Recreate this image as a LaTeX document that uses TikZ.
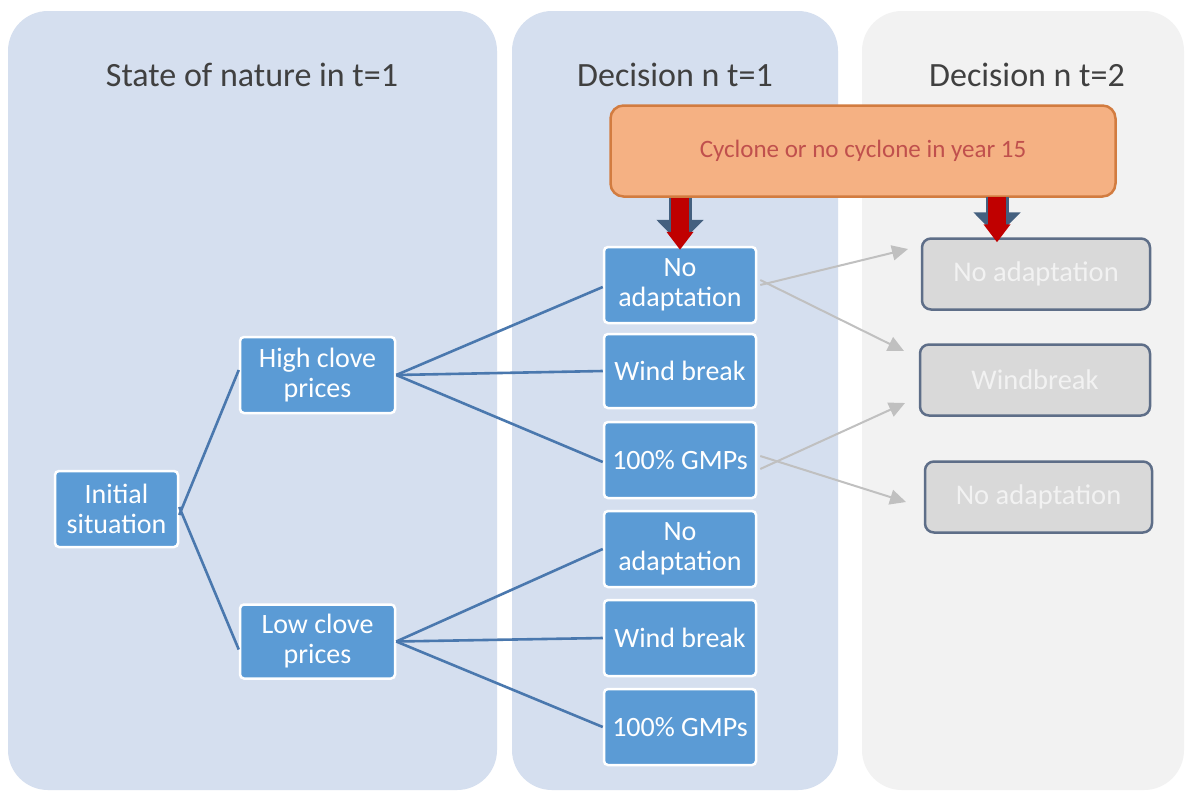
\documentclass[tikz,border=0pt]{standalone}
\usepackage{fontspec}
\setmainfont{Carlito}
\usetikzlibrary{arrows.meta,calc}
\definecolor{panelblue}{HTML}{D5DFEF}
\definecolor{panelgray}{HTML}{F2F2F2}
\definecolor{boxblue}{HTML}{5B9BD5}
\definecolor{linkblue}{HTML}{4A78AE}
\definecolor{graybox}{HTML}{D9D9D9}
\definecolor{grayedge}{HTML}{5E6E88}
\definecolor{orangefill}{HTML}{F5B183}
\definecolor{orangeedge}{HTML}{D27C40}
\definecolor{cyctext}{HTML}{C0504D}
\definecolor{arrowred}{HTML}{C00000}
\definecolor{arrowslate}{HTML}{44607F}
\definecolor{titlegray}{HTML}{404040}
\definecolor{lightarrow}{HTML}{C0C0C0}
\begin{document}
\begin{tikzpicture}[x=1pt,y=-1pt,
  bluebox/.style={draw=white,line width=2.5pt,fill=boxblue,rounded corners=4pt,
    text=white,align=center,font=\fontsize{28}{30}\selectfont,inner sep=0pt,
    minimum height=76pt},
  graynode/.style={draw=grayedge,line width=2.5pt,fill=graybox,rounded corners=9pt,
    text=panelgray,align=center,font=\fontsize{28.5}{30}\selectfont,inner sep=0pt,
    minimum width=228pt,minimum height=71pt},
  titletext/.style={anchor=base,text=titlegray,font=\fontsize{34}{40}\selectfont,inner sep=0pt},
  link/.style={draw=linkblue,line width=2.6pt},
  greyarr/.style={draw=lightarrow,line width=2pt,-{Triangle[length=16pt,width=15pt]}},
  blockout/.style={draw=arrowslate,line width=23pt,-{Triangle[length=24pt,width=46pt]}},
  blockin/.style={draw=arrowred,line width=18pt,-{Triangle[length=18pt,width=26pt]}}
]
\useasboundingbox (0,0) rectangle (1191,796);
\fill[white] (0,0) rectangle (1191,796);
% panels
\fill[panelblue,rounded corners=40pt] (8,11) rectangle (497,790);
\fill[panelblue,rounded corners=40pt] (512,11) rectangle (838,790);
\fill[panelgray,rounded corners=40pt] (862,11) rectangle (1184,790);
% titles
\node[titletext] (t1) at (252,86) {State of nature in t=1};
\node[titletext] (t2) at (675,86) {Decision n t=1};
\node[titletext] (t3) at (1027,86) {Decision n t=2};
% cyclone box
\node[draw=orangeedge,line width=2.5pt,fill=orangefill,rounded corners=13pt,
  minimum width=505pt,minimum height=91pt,inner sep=0pt,text=cyctext,
  font=\fontsize{25}{28}\selectfont] (cyc) at (863,151) {Cyclone or no cyclone in year 15};
% state of nature nodes
\node[bluebox,minimum width=123pt] (init) at (116.5,509) {Initial\\situation};
\node[bluebox,minimum width=155pt] (high) at (317.5,375) {High clove\\prices};
\node[bluebox,minimum width=155pt,minimum height=74pt] (low) at (317.5,641.5) {Low clove\\prices};
% decision t=1 nodes
\node[bluebox,minimum width=152pt] (na1) at (680,285) {No\\adaptation};
\node[bluebox,minimum width=152pt,minimum height=74pt] (wb1) at (680,371) {Wind break};
\node[bluebox,minimum width=152pt] (gm1) at (680,460) {100\% GMPs};
\node[bluebox,minimum width=152pt] (na2) at (680,549) {No\\adaptation};
\node[bluebox,minimum width=152pt] (wb2) at (680,638) {Wind break};
\node[bluebox,minimum width=152pt] (gm2) at (680,727) {100\% GMPs};
% decision t=2 nodes
\node[graynode] (g1) at (1036,274) {No adaptation};
\node[graynode,minimum width=230pt] (g2) at (1035,380) {Windbreak};
\node[graynode,minimum width=227pt] (g3) at (1038.5,497) {No adaptation};
% tree links
\draw[link] ([yshift=-6pt]init.east) -- ([yshift=5pt]high.west);
\draw[link] ([yshift=2pt]init.east) -- ([yshift=-8pt]low.west);
\draw[link] (high.east) -- ([yshift=-2pt]na1.west);
\draw[link] (high.east) -- (wb1.west);
\draw[link] (high.east) -- ([yshift=-2pt]gm1.west);
\draw[link] (low.east) -- (na2.west);
\draw[link] (low.east) -- (wb2.west);
\draw[link] (low.east) -- (gm2.west);
% block arrows from cyclone box
\coordinate (b1s) at (na1.north |- cyc.south);
\coordinate (b2s) at (997,197);
\coordinate (b2e) at (b2s |- g1.north);
\draw[blockout] (b1s) -- ([yshift=2pt]na1.north);
\draw[blockin] (b1s) -- ([yshift=-4pt]na1.north);
\draw[blockout] (b2s) -- ([yshift=1pt]b2e);
\draw[blockin] (b2s) -- ([yshift=-5pt]b2e);
% grey arrows to t=2
\coordinate (e1) at (908,249);
\coordinate (e2) at (904,351);
\coordinate (e3) at (905,403);
\coordinate (e4) at (906,502);
\draw[greyarr] ([xshift=3pt,yshift=0pt]na1.east) -- (e1);
\draw[greyarr] ([xshift=3pt,yshift=5pt]na1.east) -- (e2);
\draw[greyarr] ([xshift=3pt,yshift=-9pt]gm1.east) -- (e3);
\draw[greyarr] ([xshift=3pt,yshift=4pt]gm1.east) -- (e4);
\end{tikzpicture}
\end{document}
